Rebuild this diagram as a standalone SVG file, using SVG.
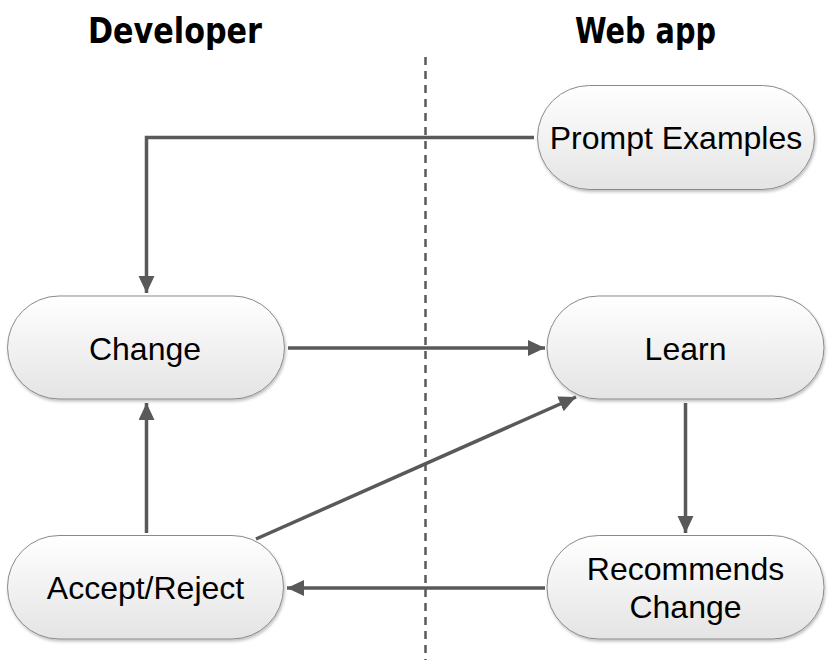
<svg xmlns="http://www.w3.org/2000/svg" width="837" height="672" viewBox="0 0 837 672">
<defs>
<linearGradient id="g" x1="0" y1="0" x2="0" y2="1">
<stop offset="0" stop-color="#ffffff"/>
<stop offset="1" stop-color="#e4e4e4"/>
</linearGradient>
<filter id="sh" x="-10%" y="-10%" width="120%" height="130%">
<feDropShadow dx="1" dy="2" stdDeviation="1.5" flood-color="#000" flood-opacity="0.25"/>
</filter>
<marker id="ah" markerUnits="userSpaceOnUse" markerWidth="20" markerHeight="18" refX="17" refY="8" orient="auto">
<path d="M0,0 L17,8 L0,16 z" fill="#595959"/>
</marker>
<style>
.node rect{fill:url(#g);stroke:#8a8a8a;stroke-width:1;filter:url(#sh)}
.node text{font-family:"Liberation Sans",Arial,sans-serif;font-size:32px;fill:#000;text-anchor:middle}
.title{font-family:"DejaVu Sans Condensed","DejaVu Sans",sans-serif;font-weight:bold;font-size:35px;fill:#000}
.conn{stroke:#595959;stroke-width:3.5;fill:none}
.arr{marker-end:url(#ah)}
</style>
</defs>
<rect width="837" height="672" fill="#fff"/>
<text class="title" x="88" y="43" textLength="174" lengthAdjust="spacingAndGlyphs">Developer</text>
<text class="title" x="575" y="43" textLength="141" lengthAdjust="spacingAndGlyphs">Web app</text>
<line x1="425.5" y1="57" x2="425.5" y2="660" stroke="#595959" stroke-width="2.5" stroke-dasharray="8,6"/>
<g id="connectors">
<polyline class="conn arr" points="534,137.5 146.5,137.5 146.5,293"/>
<line class="conn arr" x1="288" y1="348" x2="545" y2="348"/>
<line class="conn arr" x1="146.5" y1="533" x2="146.5" y2="403"/>
<line class="conn arr" x1="256" y1="539" x2="576" y2="397"/>
<line class="conn arr" x1="685.5" y1="403" x2="685.5" y2="533"/>
<line class="conn arr" x1="545" y1="588" x2="287" y2="588"/>
</g>
<g id="prompt" class="node">
<rect x="537.5" y="85.5" width="277" height="104" rx="52" ry="52"/>
<text x="676" y="149">Prompt Examples</text>
</g>
<g id="change" class="node">
<rect x="7.5" y="296" width="277" height="103" rx="51.5" ry="51.5"/>
<text x="145" y="360">Change</text>
</g>
<g id="learn" class="node">
<rect x="547" y="296" width="277" height="103" rx="51.5" ry="51.5"/>
<text x="685.5" y="360">Learn</text>
</g>
<g id="accept" class="node">
<rect x="7.5" y="535.5" width="276" height="103.5" rx="51.5" ry="51.5"/>
<text x="145.5" y="599">Accept/Reject</text>
</g>
<g id="recommends" class="node">
<rect x="547" y="535.5" width="277" height="103.5" rx="51.5" ry="51.5"/>
<text x="685.5" y="580">Recommends</text>
<text x="685.5" y="618">Change</text>
</g>
</svg>
